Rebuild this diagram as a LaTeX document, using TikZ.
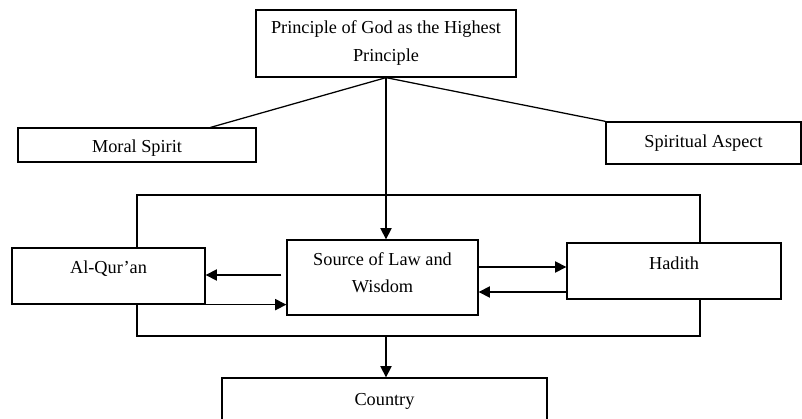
\documentclass[tikz,border=0pt]{standalone}
\usepackage{fontspec}
\setmainfont{Liberation Serif}
\usetikzlibrary{arrows.meta}

\begin{document}
\begin{tikzpicture}[x=0.025cm, y=-0.025cm,
    box/.style={draw, line width=0.9pt, align=center, inner sep=0pt,
                font=\fontsize{13}{19.5}\selectfont},
    ln/.style={line width=0.9pt},
    arr/.style={line width=0.9pt, -{Triangle[length=8pt,width=8pt]}}]
  \useasboundingbox (0,0) rectangle (802,419);
  \node (god) [box, minimum width=6.5cm, minimum height=1.675cm, text depth=0.12cm] at (386,43.5) {Principle of God as the Highest\\Principle};
  \node (moral) [box, minimum width=5.95cm, minimum height=0.85cm, text height=0.47cm] at (137,145) {Moral Spirit};
  \node (spirit) [box, minimum width=4.875cm, minimum height=1.05cm] at (703.5,143) {Spiritual Aspect};
  \node (src) [box, minimum width=4.775cm, minimum height=1.875cm, text depth=0.25cm] at (382.5,277.5) {Source of Law and\\Wisdom};
  \node (quran) [box, minimum width=4.825cm, minimum height=1.4cm, text depth=0.45cm] at (108.5,276) {Al-Qur'an};
  \node (hadith) [box, minimum width=5.35cm, minimum height=1.4cm, text depth=0.4cm] at (674,271) {Hadith};
  \node (cty) [box, minimum width=8.125cm, minimum height=1.25cm, text depth=0.2cm] at (384.5,403) {Country};
  % bracket corners
  \coordinate (tl) at (137,195);
  \coordinate (tr) at (700,195);
  \coordinate (bl) at (137,336);
  \coordinate (br) at (700,336);
  \coordinate (q1) at ([yshift=0.0625cm, xshift=-0.125cm]src.west);
  \coordinate (h1) at ([yshift=0.2625cm]src.east);
  \coordinate (h2) at ([yshift=-0.3625cm]src.east);
  \draw[ln] (god.south) -- ([xshift=-1.15cm]moral.north east)
            (god.south) -- (spirit.north west);
  \draw[arr] (god.south) -- (god.south |- src.north);
  \draw[ln] (quran.north -| tl) |- (tr) -- (hadith.north -| tr);
  \draw[ln] (quran.south -| bl) |- (br) -- (hadith.south -| br);
  \draw[arr] (god.south |- bl) -- (god.south |- cty.north);
  \draw[arr] (q1) -- (q1 -| quran.east);
  \draw[arr] (quran.south east) -- (quran.south east -| src.west);
  \draw[arr] (h1) -- (h1 -| hadith.west);
  \draw[arr] (h2 -| hadith.west) -- (h2);
\end{tikzpicture}
\end{document}
